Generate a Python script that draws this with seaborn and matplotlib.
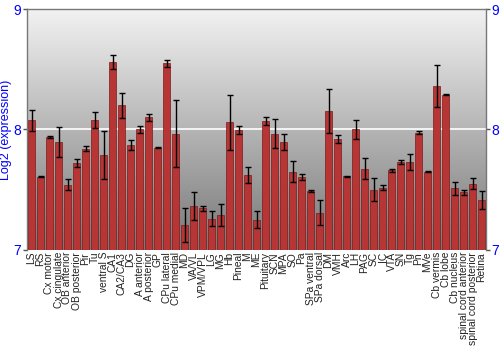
import numpy as np
import pandas as pd
import matplotlib
matplotlib.use("Agg")
import matplotlib.pyplot as plt
import seaborn as sns

regions = ["LS", "RS", "Cx motor", "Cx cingulate", "OB anterior", "OB posterior", "Pir", "Tu",
           "ventral S", "CA1", "CA2/CA3", "DG", "A anterior", "A posterior", "GP", "CPu lateral",
           "CPu medial", "MD", "VA/VL", "VPM/VPL", "LG", "MG", "Hb", "Pineal", "M", "ME",
           "Pituitary", "SCN", "MPA", "SO", "Pa", "SPa ventral", "SPa dorsal", "DM", "VMH", "Arc",
           "LH", "PAG", "SC", "IC", "VTA", "SN", "Tg", "Pn", "MVe", "Cb vermis", "Cb lobe",
           "Cb nucleus", "spinal cord anterior", "spinal cord posterior", "Retina"]
expression = [8.075, 7.607, 7.94, 7.895, 7.54, 7.72, 7.84, 8.08,
              7.79, 8.56, 8.20, 7.87, 8.00, 8.10, 7.85, 8.55,
              7.965, 7.205, 7.365, 7.345, 7.26, 7.29, 8.06, 7.995, 7.62, 7.25,
              8.07, 7.965, 7.895, 7.65, 7.605, 7.49, 7.31, 8.155, 7.92, 7.61,
              8.00, 7.675, 7.50, 7.515, 7.66, 7.73, 7.73, 7.975, 7.65, 8.36, 8.29,
              7.51, 7.48, 7.55, 7.415]
error = [0.09, 0.005, 0.01, 0.125, 0.045, 0.035, 0.02, 0.065,
         0.20, 0.06, 0.105, 0.04, 0.03, 0.03, 0.005, 0.03,
         0.28, 0.14, 0.12, 0.02, 0.06, 0.09, 0.23, 0.035, 0.065, 0.07,
         0.03, 0.12, 0.065, 0.09, 0.025, 0.01, 0.105, 0.18, 0.035, 0.005,
         0.075, 0.09, 0.095, 0.02, 0.01, 0.015, 0.07, 0.01, 0.005, 0.175, 0.005,
         0.05, 0.02, 0.045, 0.075]

df = pd.DataFrame({"region": regions, "expr": expression, "err": error})

sns.set_style("white")
plt.rcParams["font.family"] = ["Liberation Sans", "DejaVu Sans"]
fig = plt.figure(figsize=(5, 3.5), dpi=100)
ax = fig.add_axes([0.054, 0.286, 0.918, 0.688])

# gradient background
grad = np.linspace(0, 1, 256).reshape(-1, 1)
cmap = matplotlib.colors.LinearSegmentedColormap.from_list("bg", ["#f2f2f2", "#b5b5b5", "#787878"])
ax.imshow(grad, aspect="auto", cmap=cmap, extent=[0, 1, 0, 1], transform=ax.transAxes,
          zorder=0, interpolation="bicubic")

sns.barplot(data=df, x="region", y="expr", color="#b83535", width=0.88, saturation=1,
            edgecolor="#7a1a1a", linewidth=0.5, ax=ax, zorder=2)
ax.errorbar(np.arange(len(regions)), df["expr"], yerr=df["err"], fmt="none",
            ecolor="black", elinewidth=1, capsize=2, capthick=1, zorder=3)

ax.set_ylim(7, 9)
ax.set_xlim(-0.5, len(regions) - 0.5)
ax.axhline(8, color="white", lw=1.2, zorder=1)
ax.set_yticks([7, 8, 9])
ax.tick_params(axis="y", labelsize=10, length=3, left=True, right=True,
               labelright=True, width=1, direction="out", pad=1, color="#555555")
for t in ax.yaxis.get_major_ticks():
    t.label1.set_color("blue")
    t.label2.set_color("blue")
ax.set_xticks(np.arange(len(regions)))
ax.set_xticklabels(regions, rotation=90, fontsize=7.4, color="#222222")
ax.tick_params(axis="x", length=0, pad=1.5)
ax.set_xlabel("")
ax.set_ylabel("Log2 (expression)", color="blue", fontsize=9, labelpad=1)
for s in ["left", "right", "top"]:
    ax.spines[s].set_color("#777777")
    ax.spines[s].set_linewidth(1)
ax.spines["bottom"].set_visible(False)

fig.savefig("out.png", dpi=100)
